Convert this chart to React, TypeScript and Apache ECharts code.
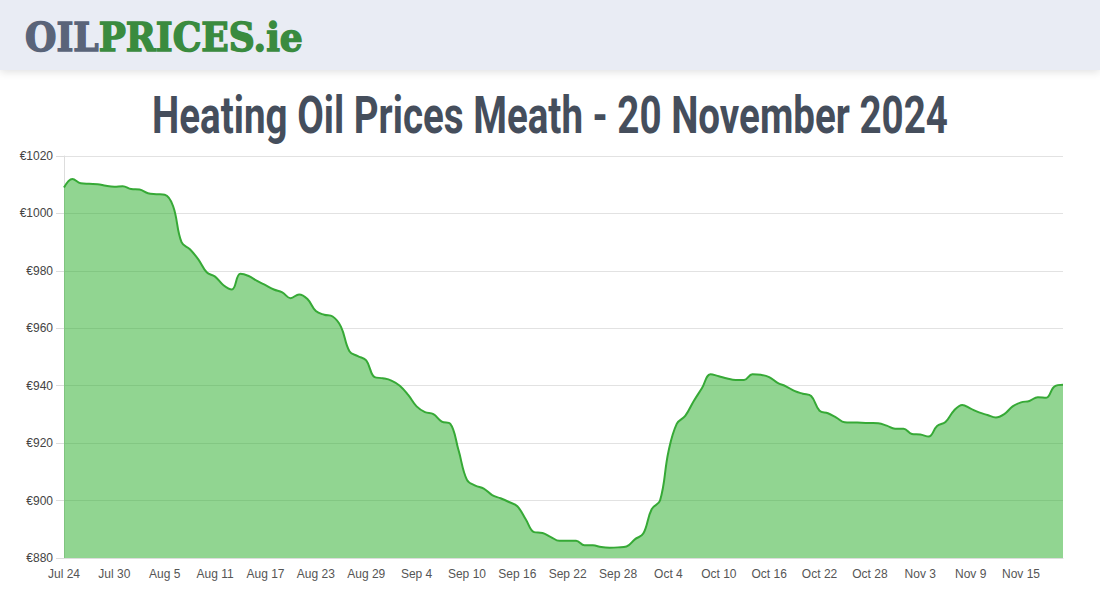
import React, { useEffect, useRef } from "react";
import * as echarts from "echarts";

const START_MONTH_DAY: [number, number] = [7, 24];
const DAY_COUNT = 120;
const MONTHS = ["Jan", "Feb", "Mar", "Apr", "May", "Jun", "Jul", "Aug", "Sep", "Oct", "Nov", "Dec"];

const prices: number[] = [
  1009, 1012, 1010.5, 1010.3, 1010.2, 1009.6, 1009.3, 1009.5, 1008.5, 1008.3,
  1007, 1006.7, 1006.5, 1002.5, 990, 987.5, 984, 979.5, 978, 975,
  973.5, 979, 978.2, 976.5, 975, 973.5, 972.5, 970.5, 971.8, 970.2,
  966, 964.7, 964.1, 960.5, 952, 950.3, 948.8, 943, 942.6, 941.8,
  940, 936.8, 932.8, 930.8, 930.1, 927.5, 926.8, 917.5, 907.2, 905.2,
  904.2, 901.9, 900.8, 899.5, 898, 893.5, 889, 888.7, 887.3, 886,
  886, 886, 884.4, 884.4, 883.8, 883.6, 883.7, 884, 886.5, 888.5,
  897, 900, 917, 926.8, 929.5, 934.6, 939.2, 944, 943.3, 942.5,
  942, 942, 944, 943.8, 943, 941, 939.8, 938.2, 937.2, 936.4,
  931.3, 930.4, 928.9, 927.3, 927.2, 927.1, 927, 926.9, 926.1, 925,
  925, 923.2, 923, 922.3, 926, 927.4, 931.3, 933.3, 932, 930.7,
  929.8, 928.9, 930.1, 932.8, 934.2, 934.7, 936, 935.8, 939.8, 940.3,
];

const TITLE = "Heating Oil Prices Meath - 20 November 2024";
const LOGO_A = "OIL";
const LOGO_B = "PRICES.ie";

function buildDates(): string[] {
  const out: string[] = [];
  const d = new Date(2024, START_MONTH_DAY[0] - 1, START_MONTH_DAY[1]);
  for (let i = 0; i < DAY_COUNT; i++) {
    out.push(MONTHS[d.getMonth()] + " " + d.getDate());
    d.setDate(d.getDate() + 1);
  }
  return out;
}

const dates = buildDates();

function measure(text: string, font: string): number {
  const c = document.createElement("canvas").getContext("2d");
  if (!c) return text.length * 20;
  c.font = font;
  return c.measureText(text).width;
}

export default function App() {
  const ref = useRef<HTMLDivElement>(null);
  useEffect(() => {
    if (!ref.current) return;
    const chart = echarts.init(ref.current, null, { renderer: "svg" });

    const titleFont = "bold 50px Roboto";
    const titleW = measure(TITLE, titleFont);
    const titleScaleX = 796 / titleW;

    const logoFont = "bold 40px 'DejaVu Serif'";
    const logoW = measure(LOGO_A + LOGO_B, logoFont);
    const logoScaleX = 278 / logoW;

    chart.setOption({
      animation: false,
      backgroundColor: "#ffffff",
      graphic: [
        {
          type: "rect",
          left: 0,
          top: 0,
          shape: { x: 0, y: 0, width: 1100, height: 70 },
          style: {
            fill: "#e9ecf4",
            shadowBlur: 8,
            shadowColor: "rgba(0,0,0,0.12)",
            shadowOffsetY: 2,
          },
          z: 10,
        },
        {
          type: "text",
          x: 25,
          y: 37,
          scaleX: logoScaleX,
          scaleY: 1,
          z: 11,
          style: {
            text: "{o|" + LOGO_A + "}{p|" + LOGO_B + "}",
            verticalAlign: "middle",
            rich: {
              o: {
                fontFamily: "DejaVu Serif", fontWeight: "bold", fontSize: 40,
                fill: "#5a6479", stroke: "#5a6479", lineWidth: 1.5,
              },
              p: {
                fontFamily: "DejaVu Serif", fontWeight: "bold", fontSize: 40,
                fill: "#3a8b3f", stroke: "#3a8b3f", lineWidth: 1.5,
              },
            },
          },
        },
        {
          type: "text",
          x: 550,
          y: 115,
          scaleX: titleScaleX,
          scaleY: 1.05,
          z: 11,
          style: {
            text: TITLE,
            fontFamily: "Roboto",
            fontWeight: "bold",
            fontSize: 50,
            fill: "#454e5c",
            align: "center",
            verticalAlign: "middle",
          },
        },
      ],
      grid: { left: 64, right: 37, top: 156, bottom: 42, containLabel: false },
      xAxis: {
        type: "category",
        data: dates,
        boundaryGap: false,
        axisLine: { show: true, lineStyle: { color: "#dddddd" } },
        axisTick: { show: false },
        axisLabel: {
          interval: 5,
          margin: 10,
          color: "#555555",
          fontSize: 12,
          fontFamily: "Liberation Sans, Arial, sans-serif",
        },
        splitLine: { show: false },
      },
      yAxis: {
        type: "value",
        min: 880,
        max: 1020,
        interval: 20,
        axisLine: { show: true, lineStyle: { color: "#dddddd" } },
        axisTick: { show: true, length: 8, lineStyle: { color: "#dddddd" } },
        axisLabel: {
          formatter: (v: number) => "€" + String(v),
          margin: 11,
          color: "#444444",
          fontSize: 12,
          fontFamily: "Liberation Sans, Arial, sans-serif",
        },
        splitLine: { show: true, lineStyle: { color: "#e2e2e2" } },
      },
      series: [
        {
          type: "line",
          data: prices,
          smooth: 0.4,
          symbol: "none",
          lineStyle: { color: "#36a936", width: 2 },
          areaStyle: { color: "rgba(35,171,35,0.5)", opacity: 1 },
        },
      ],
    });
    return () => chart.dispose();
  }, []);
  return (
    <div
      ref={ref}
      style={{ position: "fixed", left: 0, top: 0, width: 1100, height: 600 }}
    />
  );
}
